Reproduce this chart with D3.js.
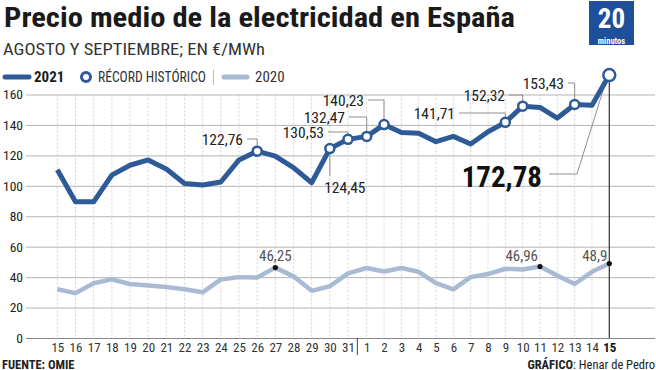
<!DOCTYPE html>
<html>
<head>
<meta charset="utf-8">
<script src="https://cdn.jsdelivr.net/npm/d3@7"></script>
<style>
  body { margin: 0; background: #fff; }
  svg { display: block; }
</style>
</head>
<body>
<svg id="chart" width="656" height="370"></svg>
<script>
// days shown on the x axis: 15-31 August, then 1-15 September
const days = ["15","16","17","18","19","20","21","22","23","24","25","26","27","28","29","30","31",
              "1","2","3","4","5","6","7","8","9","10","11","12","13","14","15"];
const price2021 = [110.5, 89.5, 89.5, 107, 113.5, 117, 111, 101.5, 100.5, 102.5, 117, 122.76, 119.5, 112, 102, 124.45, 130.53,
                   132.47, 140.23, 135, 134.5, 129, 132.5, 127.5, 135.5, 141.71, 152.32, 151.5, 144.5, 153.43, 153, 172.78];
const price2020 = [32, 29.5, 36, 38.5, 35.5, 34.5, 33.5, 32, 30, 38.5, 40, 39.8, 46.25, 40.5, 31, 34, 42.5,
                   46, 43.7, 46, 43.5, 36, 32, 40, 42, 45.5, 45, 46.96, 41, 35.5, 43.5, 48.9];
const yTicks = [0, 20, 40, 60, 80, 100, 120, 140, 160];
// days that set a new all-time record in 2021 (indices into days)
const records = [11, 15, 16, 17, 18, 25, 26, 29, 31];
// 2020 points that get a value label
const labeled2020 = [12, 27, 31];

const BLUE = '#2e5b97';
const LIGHT = '#a9bbd4';
const COND = "'Roboto Condensed','Liberation Sans Narrow','DejaVu Sans Condensed','Arial Narrow',sans-serif";
const fmt = v => String(v).replace('.', ',');

const svg = d3.select('#chart');

// the months are not spaced quite evenly in the original
const x = d3.scaleLinear()
    .domain([0, 16, 17, 31])
    .range([57.3, 348, 366.7, 609.3]);
const y = d3.scaleLinear()
    .domain([0, 160])
    .range([338, 94.5]);

// title
svg.append('text')
    .attr('x', 4).attr('y', 27)
    .attr('textLength', 511).attr('lengthAdjust', 'spacingAndGlyphs')
    .style('font-family', COND).style('font-weight', 'bold').style('font-size', '27px')
    .style('fill', '#1a1a1a')
    .text('Precio medio de la electricidad en España');
svg.append('text')
    .attr('x', 3).attr('y', 54.5)
    .attr('textLength', 262).attr('lengthAdjust', 'spacingAndGlyphs')
    .style('font-family', COND).style('font-size', '16px').style('fill', '#333')
    .text('AGOSTO Y SEPTIEMBRE; EN €/MWh');

// logo
const logo = svg.append('g');
logo.append('rect').attr('x', 589).attr('y', 1).attr('width', 45).attr('height', 44).attr('fill', '#1d4f9a');
logo.append('text').attr('x', 611.5).attr('y', 28).attr('text-anchor', 'middle')
    .style('font-family', COND).style('font-weight', 'bold').style('font-size', '27px').style('fill', '#fff')
    .text('20');
logo.append('text').attr('x', 611.5).attr('y', 43.5).attr('text-anchor', 'middle')
    .style('font-family', COND).style('font-weight', 'bold').style('font-size', '8.5px').style('fill', '#fff')
    .text('minutos');

// legend
const lg = svg.append('g').style('font-family', COND);
lg.append('line').attr('x1', 5).attr('x2', 29).attr('y1', 77).attr('y2', 77)
    .attr('stroke', BLUE).attr('stroke-width', 5).attr('stroke-linecap', 'round');
lg.append('text').attr('x', 34).attr('y', 82).style('font-weight', 'bold').style('font-size', '15px')
    .style('fill', '#1a1a1a').text('2021');
lg.append('circle').attr('cx', 86).attr('cy', 77).attr('r', 4.5)
    .attr('fill', '#fff').attr('stroke', BLUE).attr('stroke-width', 3);
lg.append('text').attr('x', 98).attr('y', 82).attr('textLength', 108).attr('lengthAdjust', 'spacingAndGlyphs')
    .style('font-size', '14px').style('fill', '#333').text('RÉCORD HISTÓRICO');
lg.append('line').attr('x1', 213.5).attr('x2', 213.5).attr('y1', 70).attr('y2', 85)
    .attr('stroke', '#bbb').attr('stroke-width', 1);
lg.append('line').attr('x1', 224).attr('x2', 247).attr('y1', 77).attr('y2', 77)
    .attr('stroke', LIGHT).attr('stroke-width', 5).attr('stroke-linecap', 'round');
lg.append('text').attr('x', 255).attr('y', 82).style('font-size', '15px').style('fill', '#333').text('2020');

// vertical dashed gridlines, one per day
svg.append('g').selectAll('line')
    .data(days)
    .join('line')
    .attr('x1', (d, i) => x(i)).attr('x2', (d, i) => x(i))
    .attr('y1', y(160)).attr('y2', y(0))
    .attr('stroke', '#d4d4d4').attr('stroke-dasharray', '2,2');

// y axis with horizontal gridlines
const yAxis = svg.append('g')
    .attr('transform', 'translate(26,0)')
    .call(d3.axisLeft(y).tickValues(yTicks).tickSize(-629).tickPadding(3));
yAxis.select('.domain').remove();
yAxis.selectAll('.tick line').attr('stroke', d => d === 0 ? '#888' : '#b5b5b5');
yAxis.selectAll('.tick text')
    .style('font-family', COND).style('font-size', '13.5px').style('fill', '#222');

// x axis
const xAxis = svg.append('g')
    .attr('transform', `translate(0,${y(0)})`)
    .call(d3.axisBottom(x).tickValues(d3.range(days.length)).tickFormat(i => days[i]).tickSize(0).tickPadding(5));
xAxis.select('.domain').remove();
xAxis.selectAll('.tick text')
    .style('font-family', COND).style('font-size', '13px')
    .style('font-weight', i => i === days.length - 1 ? 'bold' : 'normal')
    .style('fill', i => i === days.length - 1 ? '#111' : '#333');

// month separator between 31 Aug and 1 Sep
svg.append('line')
    .attr('x1', (x(16) + x(17)) / 2).attr('x2', (x(16) + x(17)) / 2)
    .attr('y1', y(0)).attr('y2', y(0) + 17)
    .attr('stroke', '#444');

// marker line on the last day
const last = days.length - 1;
svg.append('line')
    .attr('x1', x(last)).attr('x2', x(last))
    .attr('y1', y(price2021[last])).attr('y2', y(0))
    .attr('stroke', '#333').attr('stroke-width', 1.2);

const line = d3.line().x((d, i) => x(i)).y(d => y(d));

// 2020
svg.append('path').datum(price2020)
    .attr('d', line)
    .attr('fill', 'none').attr('stroke', LIGHT).attr('stroke-width', 4.5).attr('stroke-linejoin', 'round');

svg.append('g').selectAll('circle')
    .data(labeled2020)
    .join('circle')
    .attr('cx', i => x(i)).attr('cy', i => y(price2020[i])).attr('r', 2.6).attr('fill', '#111');

svg.append('g').selectAll('text')
    .data(labeled2020)
    .join('text')
    .attr('x', i => i === 12 ? x(i) : x(i) - 2)
    .attr('y', 260.5)
    .attr('text-anchor', i => i === 12 ? 'middle' : 'end')
    .style('font-family', COND).style('font-size', '15px').style('fill', '#555')
    .text(i => fmt(price2020[i]));

// leaders for the 2021 records: text end (tx), text middle (ty)
const annPos = {
    11: {tx: 243, ty: 139},
    16: {tx: 324, ty: 132},
    17: {tx: 345, ty: 117},
    18: {tx: 364, ty: 100},
    25: {tx: 455, ty: 113},
    26: {tx: 505, ty: 95},
    29: {tx: 564, ty: 83}
};
const R = 4.5;
const leaders = svg.append('g').attr('fill', 'none').attr('stroke', '#8f8f8f').attr('stroke-width', 1);
const labels = svg.append('g').style('font-family', COND).style('fill', '#222');

Object.keys(annPos).map(Number).forEach(i => {
    const p = annPos[i];
    leaders.append('path')
        .attr('d', `M${p.tx + 4},${p.ty}H${x(i)}V${y(price2021[i]) - R}`);
    labels.append('text')
        .attr('x', p.tx).attr('y', p.ty).attr('dy', '0.36em')
        .attr('text-anchor', 'end').style('font-size', '15.5px')
        .text(fmt(price2021[i]));
});

// record below the line (30 Aug)
leaders.append('path').attr('d', `M${x(15)},${y(price2021[15]) + R}V176`);
labels.append('text')
    .attr('x', x(15) + 15).attr('y', 187).attr('dy', '0.36em')
    .attr('text-anchor', 'middle').style('font-size', '15.5px')
    .text(fmt(price2021[15]));

// latest value
leaders.append('path').attr('d', `M549,174H577L${x(last) - 3},${y(price2021[last]) + 5}`);
labels.append('text')
    .attr('x', 542).attr('y', 177).attr('dy', '0.36em')
    .attr('text-anchor', 'end').style('font-size', '29px').style('font-weight', 'bold')
    .style('fill', '#111')
    .text(fmt(price2021[last]));

// 2021
svg.append('path').datum(price2021)
    .attr('d', line)
    .attr('fill', 'none').attr('stroke', BLUE).attr('stroke-width', 5).attr('stroke-linejoin', 'round');

svg.append('g').selectAll('circle')
    .data(records)
    .join('circle')
    .attr('cx', i => x(i)).attr('cy', i => y(price2021[i]))
    .attr('r', i => i === last ? 6 : R)
    .attr('fill', '#fff').attr('stroke', BLUE).attr('stroke-width', 2.5);

// footer
svg.append('text').attr('x', 2).attr('y', 368.5)
    .style('font-family', COND).style('font-size', '12.5px').style('font-weight', 'bold').style('fill', '#222')
    .text('FUENTE: OMIE');
const credit = svg.append('text').attr('x', 655).attr('y', 368.5).attr('text-anchor', 'end')
    .style('font-family', COND).style('font-size', '12.5px').style('fill', '#222');
credit.append('tspan').style('font-weight', 'bold').text('GRÁFICO');
credit.append('tspan').text(': Henar de Pedro');
</script>
</body>
</html>
